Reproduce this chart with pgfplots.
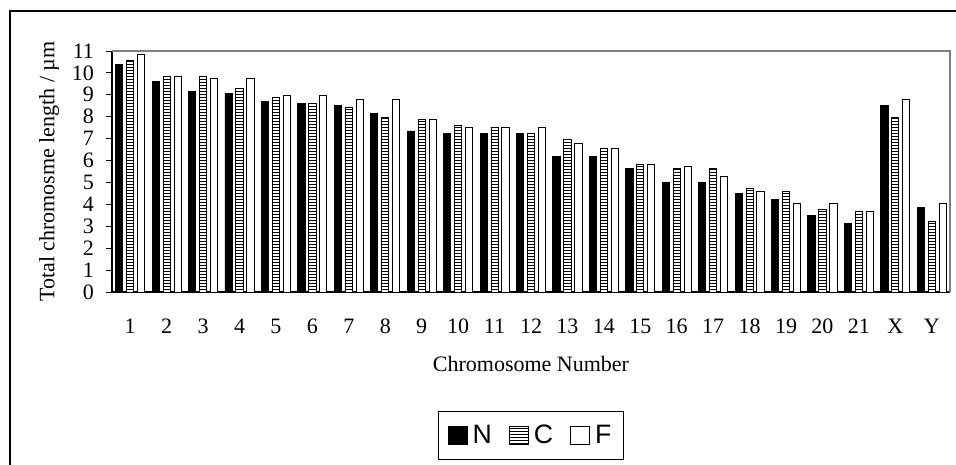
\documentclass[border=0pt]{standalone}
\usepackage{fontspec}
\setmainfont{Liberation Serif}
\newfontfamily\legfont{Liberation Sans}
\usepackage{pgfplots}
\pgfplotsset{compat=1.18}
\usetikzlibrary{patterns}
\pgfdeclarepatternformonly{hstripes}{\pgfqpoint{0pt}{0pt}}{\pgfqpoint{1pt}{2.25pt}}{\pgfqpoint{1pt}{2.25pt}}{%
  \pgfpathrectangle{\pgfqpoint{0pt}{0pt}}{\pgfqpoint{1pt}{0.95pt}}\pgfusepath{fill}}
\begin{document}
\begin{tikzpicture}
\useasboundingbox (0,0) rectangle (717pt,348pt);
\draw[line width=1.3pt] (7.5pt,-20pt) -- (7.5pt,339.75pt) -- (740pt,339.75pt);
\begin{axis}[
  at={(84pt,129pt)}, anchor=south west,
  scale only axis, width=628.5pt, height=180.75pt,
  ymin=0, ymax=11, ytick={0,...,11},
  xmin=-0.5, xmax=22.5,
  xtick={0,...,22},
  xticklabels={1,2,3,4,5,6,7,8,9,10,11,12,13,14,15,16,17,18,19,20,21,X,Y},
  x tick label style={font=\fontsize{16.5}{18}\selectfont, yshift=-12pt},
  y tick label style={font=\fontsize{16.5}{18}\selectfont, xshift=-5.5pt},
  /pgf/number format/assume math mode=true,
  axis x line*=bottom, axis y line*=left,
  axis line style={black, line width=0.8pt},
  major x tick style={draw=none},
  ytick style={black, line width=0.7pt},
  tick align=outside, major tick length=4.5pt,
  ylabel={Total chromosme length / µm},
  ylabel style={font=\fontsize{16.5}{18}\selectfont, at={(axis description cs:-0.075,0.5)}, anchor=center, rotate=0},
  xlabel={Chromosome Number},
  xlabel style={font=\fontsize{16.5}{18}\selectfont, at={(axis description cs:0.5,-0.299)}, anchor=center},
  ybar, bar width=5.4pt,
  clip=false,
  legend columns=3,
  legend style={at={(axis description cs:0.5,-0.595)}, anchor=center, draw=black, line width=0.6pt,
    font=\legfont\fontsize{20}{22}\selectfont, inner xsep=7pt, inner ysep=8.5pt,
    /tikz/every odd column/.append style={column sep=2pt},
    /tikz/every even column/.append style={column sep=11pt}},
  legend image code/.code={\draw[#1, line width=0.5pt] (0pt,-7pt) rectangle (14pt,7pt);},
]
\addplot[bar shift=-8.2pt, fill=black, draw=black, line width=0.7pt] coordinates {
(0,10.40) (1,9.59) (2,9.15) (3,9.05) (4,8.69) (5,8.61) (6,8.51) (7,8.16) (8,7.35) (9,7.24) (10,7.24) (11,7.24)
(12,6.17) (13,6.17) (14,5.64) (15,5.02) (16,5.02) (17,4.48) (18,4.21) (19,3.49) (20,3.14) (21,8.51) (22,3.84)};
\addlegendentry{N}
\addplot[bar shift=0pt, draw=black, line width=0.7pt, fill=white, postaction={pattern=hstripes, pattern color=black}] coordinates {
(0,10.58) (1,9.85) (2,9.85) (3,9.31) (4,8.87) (5,8.61) (6,8.42) (7,7.97) (8,7.88) (9,7.61) (10,7.52) (11,7.24)
(12,6.98) (13,6.54) (14,5.82) (15,5.64) (16,5.64) (17,4.74) (18,4.57) (19,3.77) (20,3.67) (21,7.97) (22,3.23)};
\addlegendentry{C}
\addplot[bar shift=8.2pt, fill=white, draw=black, line width=0.7pt] coordinates {
(0,10.85) (1,9.85) (2,9.76) (3,9.76) (4,8.95) (5,8.95) (6,8.77) (7,8.77) (8,7.88) (9,7.52) (10,7.52) (11,7.52)
(12,6.80) (13,6.54) (14,5.82) (15,5.73) (16,5.29) (17,4.57) (18,4.04) (19,4.04) (20,3.67) (21,8.78) (22,4.04)};
\addlegendentry{F}
\draw[gray, line width=0.9pt] (rel axis cs:0,1) -- (rel axis cs:1,1) -- (rel axis cs:1,0);
\end{axis}
\end{tikzpicture}
\end{document}
